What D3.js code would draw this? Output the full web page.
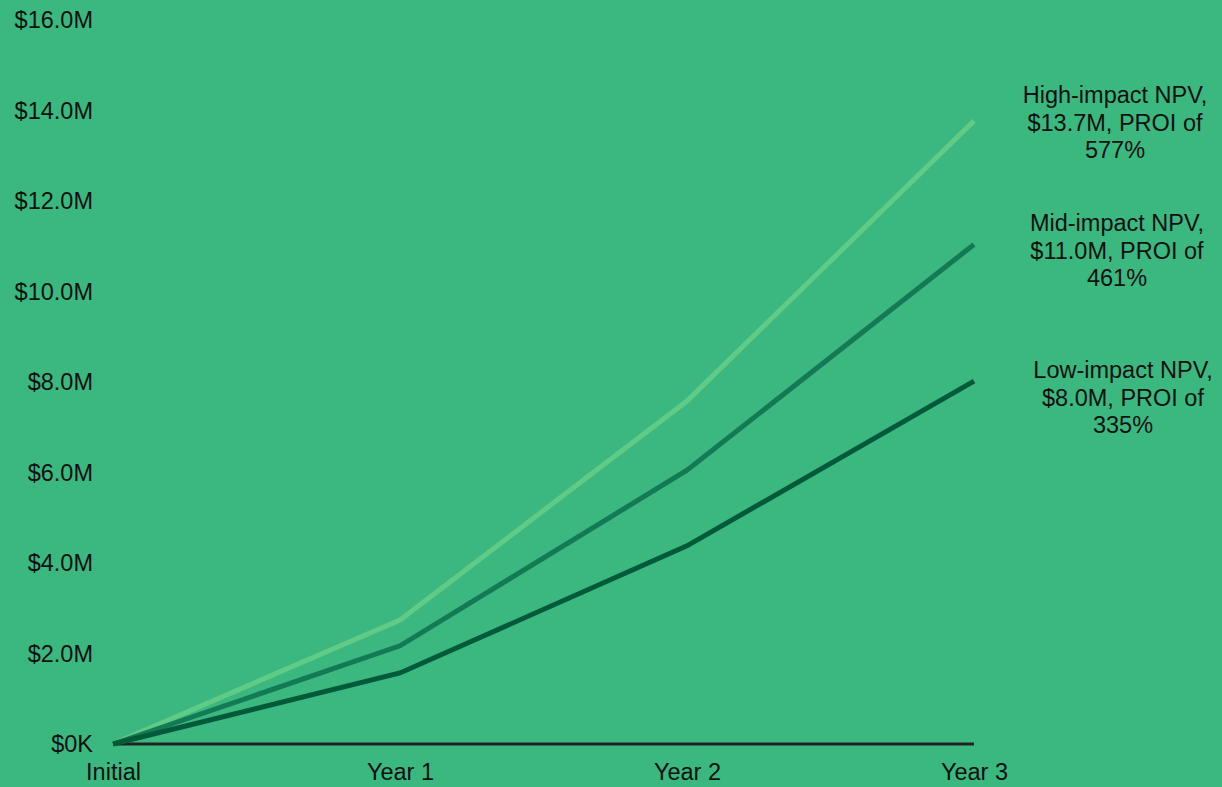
<!DOCTYPE html>
<html>
<head>
<meta charset="utf-8">
<script src="https://cdn.jsdelivr.net/npm/d3@7"></script>
<style>
  html, body { margin: 0; padding: 0; background: #3bb880; }
  #chart { width: 1222px; height: 787px; }
  text { font-family: "Liberation Sans", Arial, sans-serif; fill: #111; }
</style>
</head>
<body>
<div id="chart"></div>
<script>
const periods = ['Initial', 'Year 1', 'Year 2', 'Year 3'];
const highImpact = [0, 2.74, 7.58, 13.77];
const midImpact = [0, 2.17, 6.05, 11.04];
const lowImpact = [0, 1.57, 4.38, 8.02];
const yTicks = [0, 2, 4, 6, 8, 10, 12, 14, 16];
const labelLines = {
  high: ['High-impact NPV,', '$13.7M, PROI of', '577%'],
  mid: ['Mid-impact NPV,', '$11.0M, PROI of', '461%'],
  low: ['Low-impact NPV,', '$8.0M, PROI of', '335%'],
};

const width = 1222;
const height = 787;
const fontSize = 23.5;

const svg = d3.select('#chart')
    .append('svg')
    .attr('width', width)
    .attr('height', height);

const xScale = d3.scalePoint()
    .domain(periods)
    .range([113, 974]);

const yScale = d3.scaleLinear()
    .domain([0, 16])
    .range([744, 20]);

// y axis labels, no line
const yAxis = svg.append('g')
    .attr('transform', 'translate(93, 0)')
    .call(d3.axisLeft(yScale)
        .tickValues(yTicks)
        .tickSize(0)
        .tickPadding(0)
        .tickFormat((d) => d === 0 ? '$0K' : `$${d.toFixed(1)}M`));
yAxis.select('.domain').remove();
yAxis.selectAll('text')
    .attr('font-size', fontSize)
    .attr('font-family', '"Liberation Sans", Arial, sans-serif')
    .attr('fill', '#111');

// baseline
svg.append('line')
    .attr('x1', xScale('Initial'))
    .attr('x2', xScale('Year 3'))
    .attr('y1', yScale(0))
    .attr('y2', yScale(0))
    .attr('stroke', '#222')
    .attr('stroke-width', 3);

const xAxis = svg.append('g')
    .attr('transform', 'translate(0, 763)')
    .call(d3.axisBottom(xScale).tickSize(0).tickPadding(0));
xAxis.select('.domain').remove();
xAxis.selectAll('text')
    .attr('font-size', fontSize)
    .attr('font-family', '"Liberation Sans", Arial, sans-serif')
    .attr('fill', '#111');

const line = d3.line()
    .x((d, i) => xScale(periods[i]))
    .y((d) => yScale(d));

const series = [
  {key: 'high', values: highImpact, color: '#5fcb85'},
  {key: 'mid', values: midImpact, color: '#137a54'},
  {key: 'low', values: lowImpact, color: '#035a3b'},
];

svg.selectAll('.series')
    .data(series)
    .enter()
    .append('path')
    .attr('class', 'series')
    .attr('fill', 'none')
    .attr('stroke', (d) => d.color)
    .attr('stroke-width', 5)
    .attr('stroke-linejoin', 'miter')
    .attr('d', (d) => line(d.values));

// end labels
const labelPos = {
  high: {x: 1115, y: 103},
  mid: {x: 1117, y: 231},
  low: {x: 1123, y: 378},
};
Object.keys(labelLines).forEach((k) => {
  const t = svg.append('text')
      .attr('text-anchor', 'middle')
      .attr('font-size', fontSize)
      .attr('x', labelPos[k].x)
      .attr('y', labelPos[k].y);
  labelLines[k].forEach((s, i) => {
    t.append('tspan')
        .attr('x', labelPos[k].x)
        .attr('dy', i === 0 ? 0 : 27.5)
        .text(s);
  });
});
</script>
</body>
</html>
